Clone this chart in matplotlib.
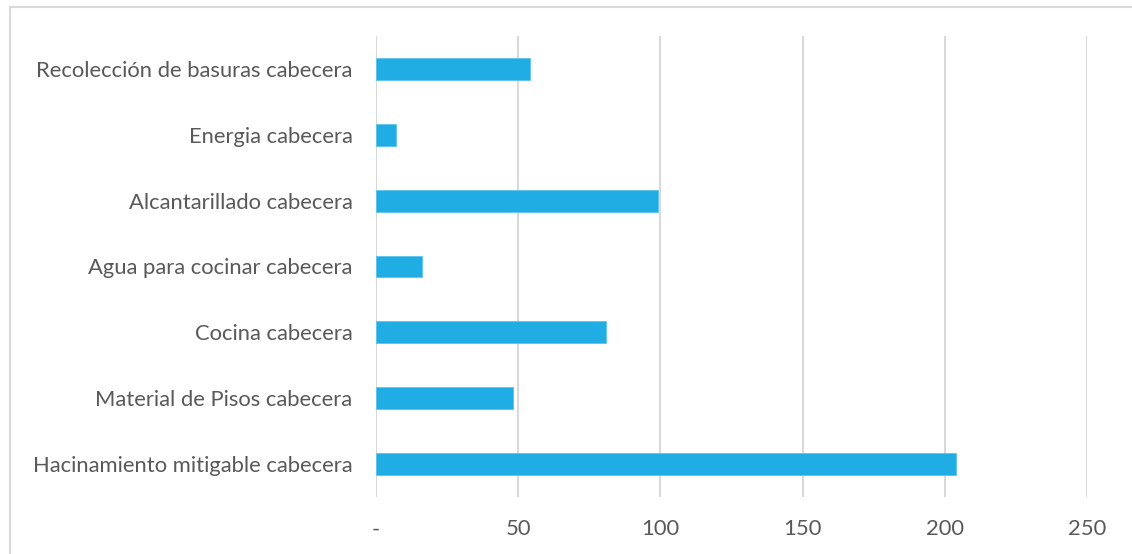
import matplotlib
matplotlib.use("Agg")
import matplotlib.pyplot as plt
from matplotlib.patches import Rectangle
from matplotlib.ticker import FixedLocator, FixedFormatter

categories = [
    "Hacinamiento mitigable cabecera",
    "Material de Pisos cabecera",
    "Cocina cabecera",
    "Agua para cocinar cabecera",
    "Alcantarillado cabecera",
    "Energia cabecera",
    "Recolección de basuras cabecera",
]
values = [204, 48, 81, 16, 99, 7, 54]
xticks = [0, 50, 100, 150, 200, 250]
xtick_labels = ["-", "50", "100", "150", "200", "250"]

plt.rcParams["font.family"] = ["Lato", "DejaVu Sans"]

W, H = 1132, 554
fig = plt.figure(figsize=(W / 100, H / 100), dpi=100)
ax = fig.add_axes([376 / W, 1 - 497 / H, (1087 - 376) / W, (497 - 36) / H])

# light frame around the chart area, as in the spreadsheet export
fig.patches.append(Rectangle((9.5 / W, -0.1), 1.2, 1 - 7 / H + 0.1,
                             transform=fig.transFigure, fill=False,
                             edgecolor="#d9d9d9", linewidth=1.5))

ax.barh(range(len(categories)), values, height=0.33, color="#1FADE4",
        edgecolor="#5cc4ec", linewidth=0.6, zorder=3)

ax.set_xlim(0, 250)
ax.set_ylim(-0.5, len(categories) - 0.5)
ax.set_yticks(range(len(categories)))
ax.set_yticklabels(categories)
ax.xaxis.set_major_locator(FixedLocator(xticks))
ax.xaxis.set_major_formatter(FixedFormatter(xtick_labels))

ax.grid(axis="x", color="#d9d9d9", linewidth=1.5, zorder=0)
for s in ax.spines.values():
    s.set_visible(False)
ax.tick_params(axis="y", length=0, pad=17, labelsize=15.8, labelcolor="#595959")
ax.tick_params(axis="x", length=0, pad=16, labelsize=15.8, labelcolor="#595959")

fig.savefig("out.png", dpi=100)
